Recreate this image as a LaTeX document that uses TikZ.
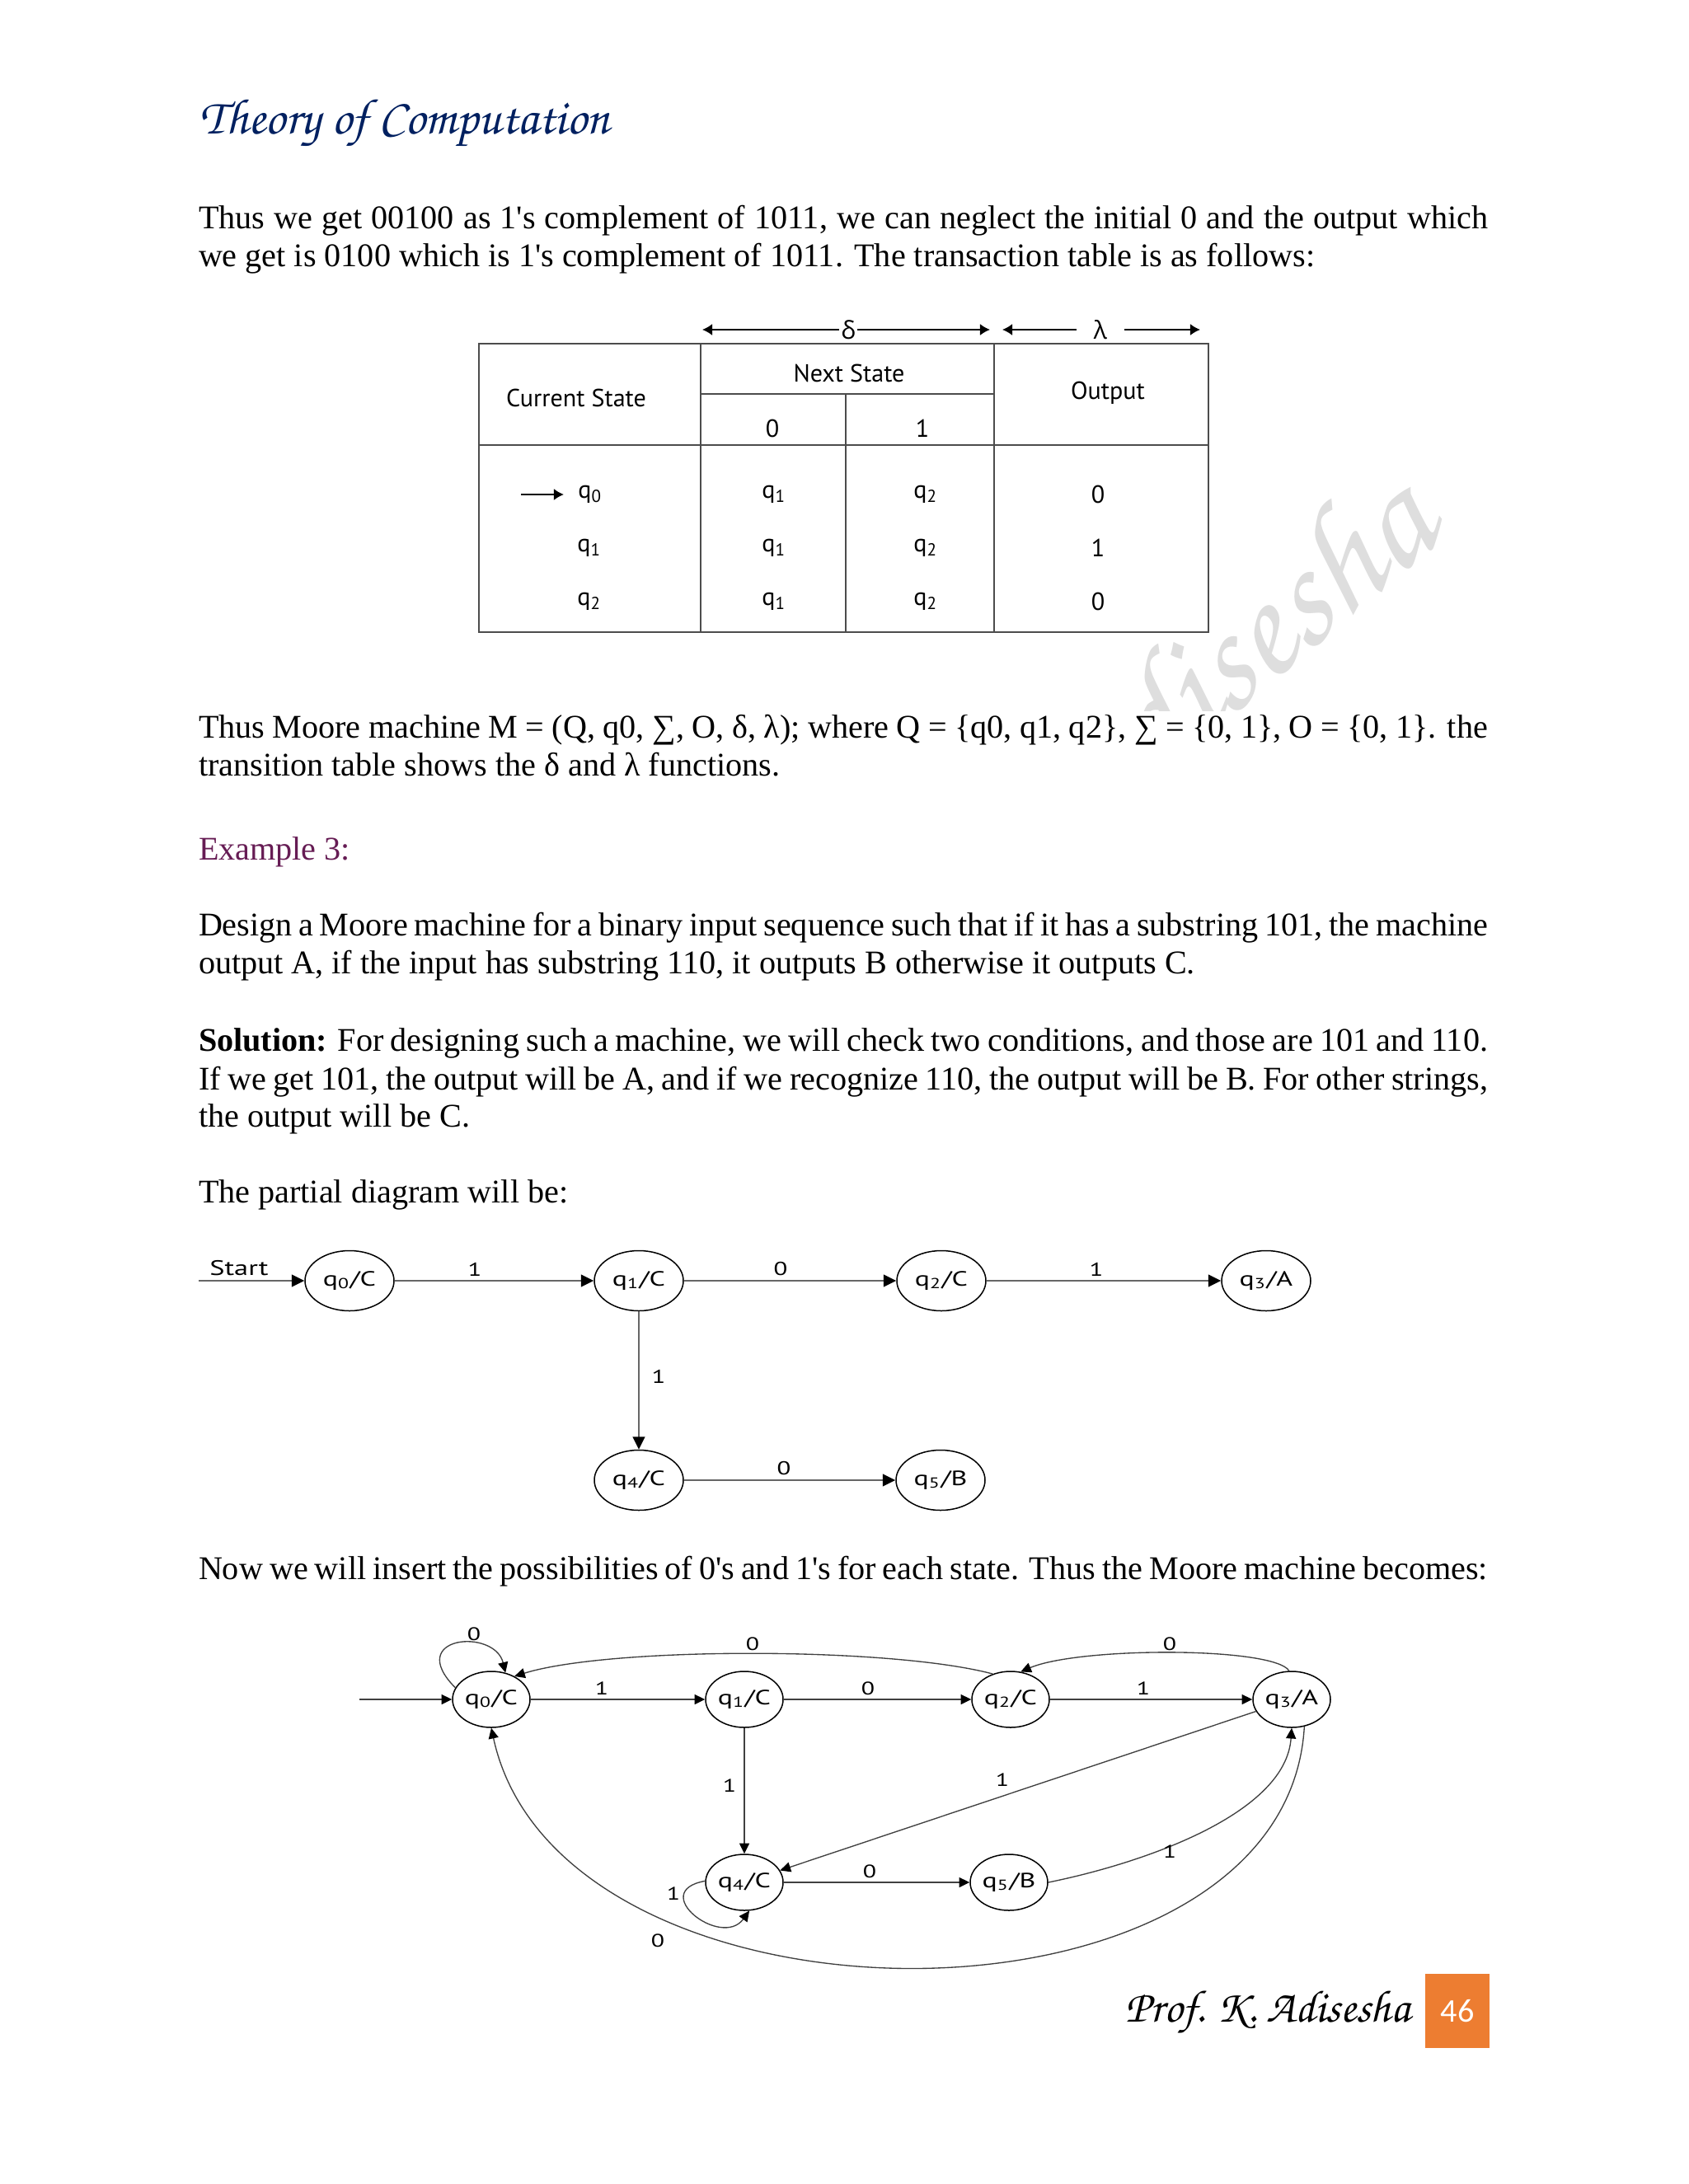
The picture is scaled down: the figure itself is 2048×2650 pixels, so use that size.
\documentclass[tikz,border=0pt]{standalone}
\usepackage[T1]{fontenc}
\usepackage{fontspec}
\newfontfamily\bodyfont{Liberation Serif}
\newfontfamily\ptsans{PT Sans}
\newfontfamily\diag{PT Sans}[FakeStretch=1.35]
\newfontfamily\opens{Open Sans}
\newfontfamily\calib{Carlito}
\newcommand\chanc{\fontencoding{T1}\fontfamily{pzc}\fontseries{mb}\fontshape{it}\selectfont}
\usetikzlibrary{arrows.meta,shapes.geometric}
\newcommand\px{*0.298828bp}
\definecolor{navy}{RGB}{0,32,96}
\definecolor{expurple}{RGB}{102,28,84}
\definecolor{pgorange}{RGB}{237,125,49}
\tikzset{
  body/.style={anchor=base west, inner sep=0, outer sep=0, font=\bodyfont\fontsize{12bp}{13.6bp}\selectfont},
  tbl/.style={font=\ptsans\fontsize{9bp}{10bp}\selectfont, inner sep=0},
  grk/.style={font=\opens\fontsize{9bp}{10bp}\selectfont, inner sep=0.6bp},
  tline/.style={draw=black!70, line width=0.55bp},
  tarrow/.style={draw=black, line width=0.55bp, -{Latex[length=3.6bp,width=4.2bp]}},
  pst/.style={draw=black, ellipse, minimum width=108\px, minimum height=73\px, inner sep=0, font=\diag\fontsize{7.5bp}{9bp}\selectfont, line width=0.45bp},
  fst/.style={pst, minimum width=94\px, minimum height=68\px},
  pedge/.style={draw=black!60, line width=0.6bp, -{Triangle[length=4.6bp,width=4.4bp,color=black]}},
  fedge/.style={draw=black!75, line width=0.4bp, -{Triangle[length=3.8bp,width=3.6bp,color=black]}},
  plbl/.style={font=\diag\fontsize{6.8bp}{7bp}\selectfont, inner sep=0},
  lbl/.style={font=\diag\fontsize{6.6bp}{7bp}\selectfont, inner sep=0},
  wm/.style={rotate=40, text=black!13, font=\chanc\fontsize{55bp}{60bp}\selectfont, anchor=base east, inner sep=0},
}
\begin{document}
\begin{tikzpicture}[x=0.298828bp, y=-0.298828bp]
\useasboundingbox (0,0) rectangle (2048,2650);
\fill[white] (0,0) rectangle (2048,2650);

% watermark (visible only where the page is not covered)
\begin{scope}
\clip (1380,773) rectangle (1850,862) (1480,380) rectangle (1850,862);
\node[wm] (wmark) at (1752,652) {Adisesha};
\end{scope}

% header
\node[anchor=base west, inner sep=0, text=navy, font=\chanc\fontsize{18.2bp}{21bp}\selectfont] (head) at (242,162) {Theory of Computation};

% paragraph 1
\node[body] (p1a) at (241,277) {\makebox[467.37bp][s]{Thus we get 00100 as 1's complement of 1011, we can neglect the initial 0 and the output which}};
\node[body] (p1b) at (241,323) {we get is 0100 which is 1's complement of 1011. The transaction table is as follows:};

% table
\draw[tline] (581,417) rectangle (1466,767);
\draw[tline] (581,540) -- (1466,540);
\draw[tline] (850,417) -- (850,767);
\draw[tline] (1206,417) -- (1206,767);
\draw[tline] (850,478) -- (1206,478);
\draw[tline] (1026,478) -- (1026,767);
\coordinate (dL) at (852,400);
\coordinate (dR) at (1201,400);
\node[grk] (delta) at (1029,400) {δ};
\draw[tarrow] (delta) -- (dL);
\draw[tarrow] (delta) -- (dR);
\coordinate (lL) at (1216,400);
\coordinate (lR) at (1456,400);
\node[grk, inner xsep=20\px] (lam) at (1335,400) {λ};
\draw[tarrow] (lam) -- (lL);
\draw[tarrow] (lam) -- (lR);
\node[tbl] (hcur) at (699,483) {Current State};
\node[tbl] (hnext) at (1030,453) {Next State};
\node[tbl] (hout) at (1344,477) {Output};
\node[tbl] (h0) at (937,520) {0};
\node[tbl] (h1) at (1119,520) {1};
\node[tbl] (c0) at (716,600) {q\textsubscript{0}};
\node[tbl] (c1) at (715,665) {q\textsubscript{1}};
\node[tbl] (c2) at (715,730) {q\textsubscript{2}};
\coordinate (ia) at (632,600);
\draw[tarrow, shorten >=5bp] (ia) -- (c0);
\node[tbl] (n00) at (939,600) {q\textsubscript{1}};
\node[tbl] (n10) at (939,665) {q\textsubscript{1}};
\node[tbl] (n20) at (939,730) {q\textsubscript{1}};
\node[tbl] (n01) at (1123,600) {q\textsubscript{2}};
\node[tbl] (n11) at (1123,665) {q\textsubscript{2}};
\node[tbl] (n21) at (1123,730) {q\textsubscript{2}};
\node[tbl] (o0) at (1332,600) {0};
\node[tbl] (o1) at (1332,665) {1};
\node[tbl] (o2) at (1332,730) {0};

% paragraph 2
\node[body] (p2a) at (241,895) {\makebox[467.37bp][s]{Thus Moore machine M = (Q, q0, ∑, O, δ, λ); where Q = \{q0, q1, q2\}, ∑ = \{0, 1\}, O = \{0, 1\}. the}};
\node[body] (p2b) at (241,941) {transition table shows the δ and λ functions.};

\node[body, text=expurple] (ex3) at (241,1043) {Example 3:};

\node[body] (p3a) at (241,1135) {\makebox[467.37bp][s]{Design a Moore machine for a binary input sequence such that if it has a substring 101, the machine}};
\node[body] (p3b) at (241,1181) {output A, if the input has substring 110, it outputs B otherwise it outputs C.};

\node[body] (p4a) at (241,1275) {\makebox[467.37bp][s]{\textbf{Solution:} For designing such a machine, we will check two conditions, and those are 101 and 110.}};
\node[body] (p4b) at (241,1322) {\makebox[467.37bp][s]{If we get 101, the output will be A, and if we recognize 110, the output will be B. For other strings,}};
\node[body] (p4c) at (241,1367) {the output will be C.};

\node[body] (p5) at (241,1459) {The partial diagram will be:};

% partial diagram
\node[pst] (p0) at (424,1554) {q\textsubscript{0}/C};
\node[pst] (p1) at (775,1554) {q\textsubscript{1}/C};
\node[pst] (p2) at (1142,1554) {q\textsubscript{2}/C};
\node[pst] (p3) at (1536,1554) {q\textsubscript{3}/A};
\node[pst] (p4) at (775,1796) {q\textsubscript{4}/C};
\node[pst] (p5n) at (1141,1796) {q\textsubscript{5}/B};
\coordinate (ps) at (241,1554);
\node[anchor=base, inner sep=0, font=\diag\fontsize{7.6bp}{9bp}\selectfont] (start) at (290,1547) {Start};
\draw[pedge] (ps) -- (p0);
\draw[pedge] (p0) -- (p1);
\draw[pedge] (p1) -- (p2);
\draw[pedge] (p2) -- (p3);
\draw[pedge] (p1) -- (p4);
\draw[pedge] (p4) -- (p5n);
\node[plbl] (pl1) at (576,1540) {1};
\node[plbl] (pl2) at (947,1540) {0};
\node[plbl] (pl3) at (1330,1540) {1};
\node[plbl] (pl4) at (799,1670) {1};
\node[plbl] (pl5) at (951,1782) {0};

\node[body] (p6) at (241,1916) {\makebox[467.37bp][s]{Now we will insert the possibilities of 0's and 1's for each state. Thus the Moore machine becomes:}};

% full diagram
\node[fst] (f0) at (596,2062) {q\textsubscript{0}/C};
\node[fst] (f1) at (903,2062) {q\textsubscript{1}/C};
\node[fst] (f2) at (1226,2062) {q\textsubscript{2}/C};
\node[fst] (f3) at (1567,2062) {q\textsubscript{3}/A};
\node[fst] (f4) at (903,2284) {q\textsubscript{4}/C};
\node[fst] (f5) at (1224,2284) {q\textsubscript{5}/B};
\coordinate (fs) at (436,2062);
\draw[fedge] (fs) -- (f0);
\draw[fedge] (f0) -- (f1);
\draw[fedge] (f1) -- (f2);
\draw[fedge] (f2) -- (f3);
\draw[fedge] (f1) -- (f4);
\draw[fedge] (f4) -- (f5);
\draw[fedge] (f3) -- (f4);
\draw[fedge] (f0.162) .. controls (490,1985) and (600,1975) .. (f0.62);
\draw[fedge] (f2.125) .. controls (1080,1998) and (740,1998) .. (f0.45);
\draw[fedge] (f3.95) .. controls (1545,1998) and (1310,1998) .. (f2.70);
\draw[fedge] (f5.east) .. controls (1390,2260) and (1560,2200) .. (f3.south);
\draw[fedge] (f3.-65) .. controls (1560,2484) and (680,2484) .. (f0.south);
\draw[fedge] (f4.178) .. controls (785,2295) and (875,2365) .. (f4.-80);
\node[lbl] (fl1) at (575,1983) {0};
\node[lbl] (fl2) at (730,2049) {1};
\node[lbl] (fl3) at (1053,2049) {0};
\node[lbl] (fl4) at (1387,2049) {1};
\node[lbl] (fl5) at (913,1995) {0};
\node[lbl] (fl6) at (1419,1995) {0};
\node[lbl] (fl7) at (885,2167) {1};
\node[lbl] (fl8) at (1216,2160) {1};
\node[lbl] (fl9) at (1055,2271) {0};
\node[lbl] (fl10) at (817,2298) {1};
\node[lbl] (fl11) at (1419,2247) {1};
\node[lbl] (fl12) at (798,2355) {0};

% footer
\node[anchor=base east, inner sep=0, font=\chanc\fontsize{16.5bp}{19bp}\selectfont] (foot) at (1711,2453) {Prof. K. Adisesha};
\node[fill=pgorange, minimum width=78\px, minimum height=90\px, inner sep=0, text=white, font=\calib\fontsize{12bp}{12bp}\selectfont] (pg) at (1768,2440) {46};
\end{tikzpicture}
\end{document}
